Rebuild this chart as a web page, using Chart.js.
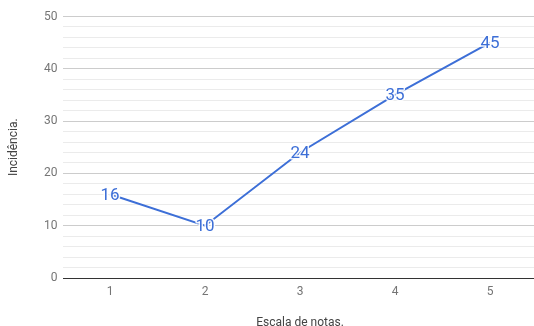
<!DOCTYPE html>
<html>
<head>
<meta charset="utf-8">
<script src="https://cdn.jsdelivr.net/npm/chart.js@4/dist/chart.umd.min.js"></script>
<style>
  html, body { margin: 0; padding: 0; background: #fff; overflow: hidden; }
  #wrap { width: 540px; height: 326px; position: relative; }
</style>
</head>
<body>
<div id="wrap"><canvas id="c" width="540" height="326"></canvas></div>
<script>
// Grades on the scale and how many times each occurred
const categories = ["1", "2", "3", "4", "5"];
const incidence = [16, 10, 24, 35, 45];
const yTickLabels = [0, 10, 20, 30, 40, 50];

const lineColor = "#3d6fd7";

// Writes each point's value centred on the point, with a white halo
const valueLabels = {
  id: "valueLabels",
  afterDatasetsDraw(chart) {
    const ctx = chart.ctx;
    const meta = chart.getDatasetMeta(0);
    ctx.save();
    ctx.font = "17px Roboto, 'Noto Sans', sans-serif";
    ctx.textAlign = "center";
    ctx.textBaseline = "middle";
    ctx.lineJoin = "round";
    meta.data.forEach((pt, i) => {
      const txt = String(chart.data.datasets[0].data[i]);
      ctx.strokeStyle = "rgba(255,255,255,0.9)";
      ctx.lineWidth = 3;
      ctx.strokeText(txt, pt.x, pt.y + 1);
      ctx.fillStyle = lineColor;
      ctx.fillText(txt, pt.x, pt.y + 1);
    });
    ctx.restore();
  }
};

new Chart(document.getElementById("c"), {
  type: "line",
  data: {
    labels: categories,
    datasets: [{
      data: incidence,
      borderColor: lineColor,
      borderWidth: 2,
      pointRadius: 0,
      pointHoverRadius: 0,
      tension: 0,
      fill: false
    }]
  },
  options: {
    responsive: false,
    animation: false,
    events: [],
    layout: { padding: { left: 0, top: 16.5, right: 2.5, bottom: 0 } },
    plugins: { legend: { display: false }, tooltip: { enabled: false } },
    scales: {
      x: {
        type: "category",
        offset: true,
        grid: { display: false, drawTicks: false },
        border: { display: false },
        ticks: {
          color: "#757575",
          font: { family: "Roboto, sans-serif", size: 12 },
          padding: 7,
          maxRotation: 0
        },
        title: {
          display: true,
          text: "Escala de notas.",
          color: "#444",
          font: { family: "Roboto, sans-serif", size: 12 },
          padding: { top: 0, bottom: -4 }
        },
        afterFit(s) { s.height = 48; }
      },
      y: {
        min: 0,
        max: 50,
        afterBuildTicks(s) {
          const t = [];
          for (let v = 0; v <= 50; v += 2) t.push({ value: v });
          s.ticks = t;
        },
        grid: {
          drawTicks: false,
          lineWidth: 1,
          color(c) {
            const v = c.tick ? c.tick.value : null;
            if (v === 0) return "#333333";
            if (yTickLabels.includes(v)) return "#cccccc";
            return "#ebebeb";
          }
        },
        border: { display: false },
        ticks: {
          color: "#757575",
          font: { family: "Roboto, sans-serif", size: 12 },
          padding: 5,
          autoSkip: false,
          callback(v) { return yTickLabels.includes(v) ? String(v) : ""; }
        },
        title: {
          display: true,
          text: "Incidência.",
          color: "#444",
          font: { family: "Roboto, sans-serif", size: 12 },
          padding: { top: 7, bottom: 0 }
        },
        afterFit(s) { s.width = 62.5; }
      }
    }
  },
  plugins: [valueLabels]
});
</script>
</body>
</html>
